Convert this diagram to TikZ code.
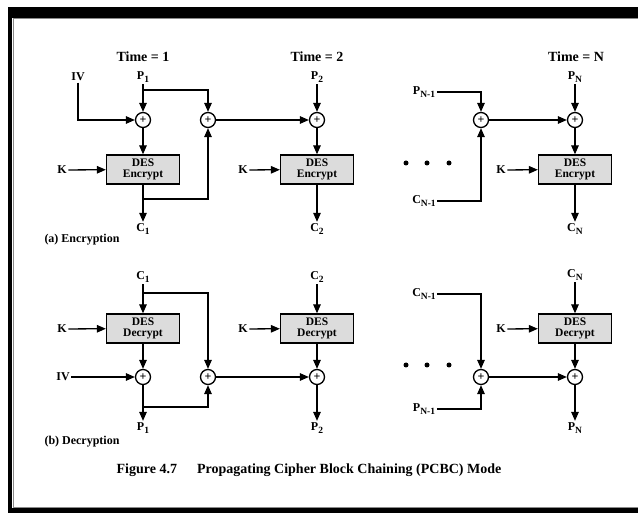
\documentclass[tikz,border=0pt]{standalone}
\usepackage{fontspec}
\setmainfont{Liberation Serif}
\usetikzlibrary{arrows.meta,positioning}
\definecolor{clBox}{HTML}{DCDCDC}
\definecolor{clRule}{HTML}{8A8A8A}
\newcommand{\lsub}[1]{\raisebox{-0.55ex}{\fontsize{9.5}{10}\selectfont #1}}
\tikzset{
  desbox/.style={rectangle, draw, line width=1.3pt, fill=clBox, align=center,
                 minimum width=73pt, minimum height=29pt, inner sep=1pt,
                 font=\fontsize{11.5}{11}\selectfont\bfseries},
  xorgate/.style={circle, draw, line width=1.3pt, fill=white, minimum size=15pt,
                  inner sep=0pt, font=\fontsize{12}{12}\selectfont\bfseries},
  lbl/.style={inner sep=1.5pt, font=\fontsize{12}{12}\selectfont\bfseries},
  timelbl/.style={inner sep=1pt, font=\fontsize{14}{14}\selectfont\bfseries},
  flow/.style={-{Triangle[length=9pt,width=7.5pt]}, line width=1.3pt},
}
\begin{document}
\begin{tikzpicture}[x=1pt, y=-1pt]
  \useasboundingbox (0,0) rectangle (638,513);
  % frame
  \fill (8,7) rectangle (638,18);
  \fill (8,7) rectangle (12,513);
  \fill (8,508) rectangle (638,513);
  \draw[clRule, line width=1pt] (12.5,19) -- (638,19);
  \draw[clRule, line width=1pt] (13,19) -- (13,507.5) -- (638,507.5);

  % (a) encryption
  \node[timelbl] (t1) at (143,57) {Time = 1};
  \node[timelbl] (t2) at (317,57) {Time = 2};
  \node[timelbl] (tn) at (576,57) {Time = N};

  \node[lbl] (iva) at (78,77) {IV};
  \node[lbl] (pa1) at (143,77) {P\lsub{1}};
  \node[xorgate] (xa1) at (143,120) {+};
  \node[xorgate] (ya1) at (208,120) {+};
  \node[desbox] (ea1) at (143,169.5) {DES\\Encrypt};
  \node[lbl] (ka1) at (62,170) {K};
  \node[lbl] (ca1) at (143,229) {C\lsub{1}};
  \coordinate (sa1) at (143,90);
  \coordinate (sb1) at (143,199);

  \node[lbl] (pa2) at (317,77) {P\lsub{2}};
  \node[xorgate] (xa2) at (317,120) {+};
  \node[desbox] (ea2) at (317,169.5) {DES\\Encrypt};
  \node[lbl] (ka2) at (243,170) {K};
  \node[lbl] (ca2) at (317,229) {C\lsub{2}};

  \node[lbl] (pan1) at (424,92) {P\lsub{N-1}};
  \node[lbl] (can1) at (424,201) {C\lsub{N-1}};
  \node[xorgate] (yan) at (481,120) {+};

  \node[lbl] (pan) at (575,77) {P\lsub{N}};
  \node[xorgate] (xan) at (575,120) {+};
  \node[desbox] (ean) at (575,169.5) {DES\\Encrypt};
  \node[lbl] (kan) at (501,170) {K};
  \node[lbl] (can) at (575,229) {C\lsub{N}};

  \draw[flow] (pa1) -- (xa1);
  \draw[flow] (sa1) -| (ya1);
  \draw[flow] (iva) |- (xa1);
  \draw[flow] (xa1) -- (ea1);
  \draw[flow] (ka1) -- (ea1);
  \draw[flow] (ea1) -- (ca1);
  \draw[flow] (sb1) -| (ya1);
  \draw[flow] (ya1) -- (xa2);
  \draw[flow] (pa2) -- (xa2);
  \draw[flow] (xa2) -- (ea2);
  \draw[flow] (ka2) -- (ea2);
  \draw[flow] (ea2) -- (ca2);
  \draw[flow] (pan1) -| (yan);
  \draw[flow] (can1) -| (yan);
  \draw[flow] (yan) -- (xan);
  \draw[flow] (pan) -- (xan);
  \draw[flow] (xan) -- (ean);
  \draw[flow] (kan) -- (ean);
  \draw[flow] (ean) -- (can);
  \foreach \x in {406,427,449} \fill (\x,163) circle (2.5);
  \node[lbl] (capa) at (82,240) {(a) Encryption};

  % (b) decryption
  \node[lbl] (cb1) at (143,277) {C\lsub{1}};
  \node[desbox] (db1) at (143,328.5) {DES\\Decrypt};
  \node[lbl] (kb1) at (62,329) {K};
  \node[xorgate] (xb1) at (143,377) {+};
  \node[xorgate] (yb1) at (208,377) {+};
  \node[lbl] (ivb) at (63,377) {IV};
  \node[lbl] (pb1) at (143,428) {P\lsub{1}};
  \coordinate (sc1) at (143,293);
  \coordinate (sd1) at (143,407);

  \node[lbl] (cb2) at (317,277) {C\lsub{2}};
  \node[desbox] (db2) at (317,328.5) {DES\\Decrypt};
  \node[lbl] (kb2) at (243,329) {K};
  \node[xorgate] (xb2) at (317,377) {+};
  \node[lbl] (pb2) at (317,428) {P\lsub{2}};

  \node[lbl] (cbn1) at (424,294) {C\lsub{N-1}};
  \node[lbl] (pbn1) at (424,409) {P\lsub{N-1}};
  \node[xorgate] (ybn) at (481,377) {+};

  \node[lbl] (cbn) at (575,275) {C\lsub{N}};
  \node[desbox] (dbn) at (575,328.5) {DES\\Decrypt};
  \node[lbl] (kbn) at (501,329) {K};
  \node[xorgate] (xbn) at (575,377) {+};
  \node[lbl] (pbn) at (575,428) {P\lsub{N}};

  \draw[flow] (cb1) -- (db1);
  \draw[flow] (sc1) -| (yb1);
  \draw[flow] (kb1) -- (db1);
  \draw[flow] (db1) -- (xb1);
  \draw[flow] (ivb) -- (xb1);
  \draw[flow] (xb1) -- (pb1);
  \draw[flow] (sd1) -| (yb1);
  \draw[flow] (yb1) -- (xb2);
  \draw[flow] (cb2) -- (db2);
  \draw[flow] (kb2) -- (db2);
  \draw[flow] (db2) -- (xb2);
  \draw[flow] (xb2) -- (pb2);
  \draw[flow] (cbn1) -| (ybn);
  \draw[flow] (pbn1) -| (ybn);
  \draw[flow] (ybn) -- (xbn);
  \draw[flow] (cbn) -- (dbn);
  \draw[flow] (kbn) -- (dbn);
  \draw[flow] (dbn) -- (xbn);
  \draw[flow] (xbn) -- (pbn);
  \foreach \x in {406,427,449} \fill (\x,365) circle (2.5);
  \node[lbl] (capb) at (82,442) {(b) Decryption};

  \node[timelbl] (fig) at (309,470) {Figure 4.7\hspace{20pt}Propagating Cipher Block Chaining (PCBC) Mode};
\end{tikzpicture}
\end{document}
